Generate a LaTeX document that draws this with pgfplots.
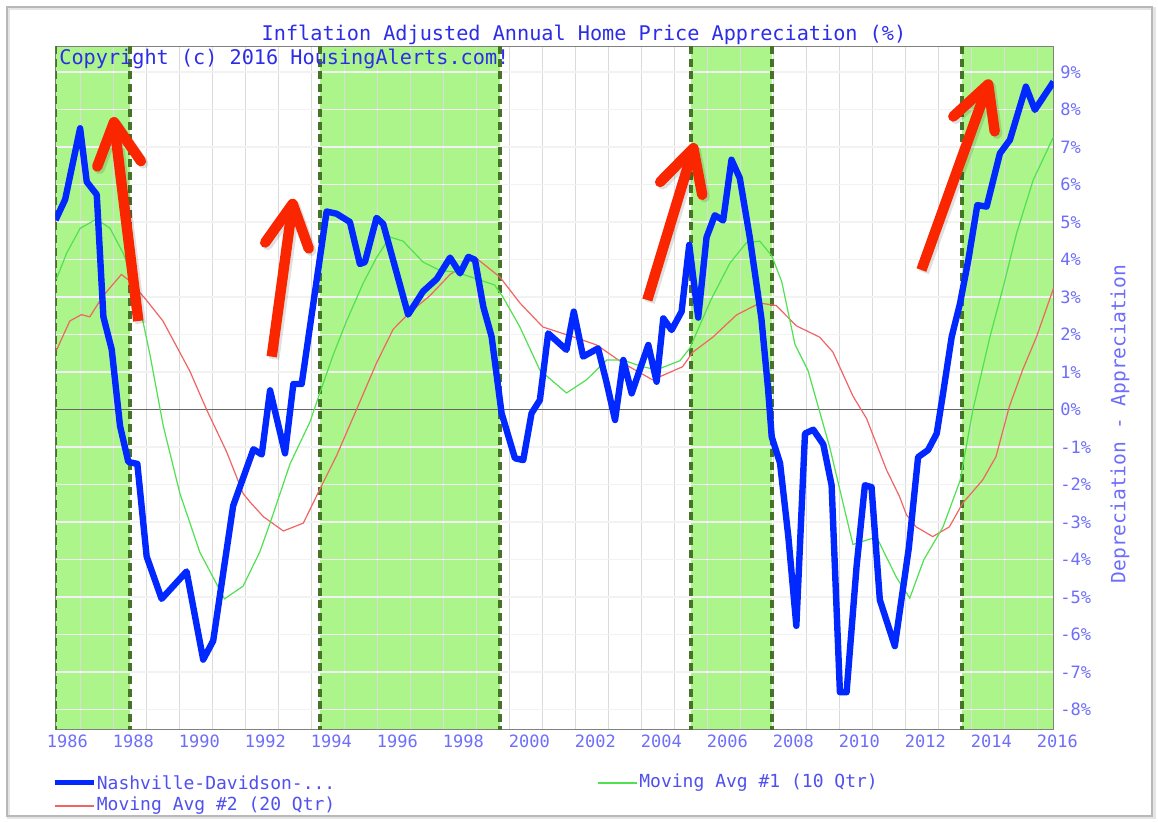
\documentclass[border=0pt]{standalone}
\usepackage{fontspec}
\setmainfont{DejaVu Sans Mono}
\usepackage{pgfplots}
\pgfplotsset{compat=1.18}
\usepackage{pgfplotstable}
\usetikzlibrary{arrows.meta}

\definecolor{titleblue}{RGB}{45,45,230}
\definecolor{tickblue}{RGB}{110,110,250}
\definecolor{legblue}{RGB}{80,80,240}
\definecolor{bandgreen}{RGB}{172,245,138}
\definecolor{dashgreen}{RGB}{70,115,40}
\definecolor{nashblue}{RGB}{0,40,255}
\definecolor{magreen}{RGB}{80,225,80}
\definecolor{mared}{RGB}{240,100,100}
\definecolor{arrowred}{RGB}{250,38,0}

% Nashville-Davidson, inflation adjusted annual appreciation (%)
\pgfplotstableread{
year pct
1986.00 5.05
1986.29 5.60
1986.74 7.50
1986.94 6.07
1987.24 5.73
1987.44 2.47
1987.69 1.60
1987.94 -0.44
1988.19 -1.40
1988.46 -1.45
1988.74 -3.92
1989.19 -5.05
1989.94 -4.32
1990.44 -6.67
1990.74 -6.17
1991.34 -2.57
1991.95 -1.06
1992.20 -1.20
1992.45 0.51
1992.90 -1.17
1993.15 0.68
1993.40 0.68
1994.15 5.28
1994.45 5.22
1994.85 5.00
1995.15 3.88
1995.30 3.93
1995.65 5.11
1995.85 4.95
1996.60 2.53
1997.05 3.15
1997.46 3.48
1997.86 4.05
1998.16 3.63
1998.41 4.07
1998.61 3.99
1998.86 2.74
1999.11 1.94
1999.41 -0.10
1999.81 -1.30
2000.06 -1.35
2000.31 -0.10
2000.56 0.25
2000.81 2.03
2001.36 1.59
2001.58 2.61
2001.86 1.41
2002.31 1.63
2002.57 0.70
2002.82 -0.28
2003.07 1.32
2003.32 0.43
2003.82 1.72
2004.07 0.74
2004.27 2.43
2004.52 2.12
2004.82 2.61
2005.05 4.39
2005.32 2.45
2005.57 4.59
2005.82 5.18
2006.07 5.04
2006.32 6.66
2006.57 6.17
2006.87 4.59
2007.22 2.42
2007.42 0.55
2007.53 -0.73
2007.78 -1.43
2008.03 -3.40
2008.27 -5.77
2008.53 -0.64
2008.78 -0.54
2009.08 -0.93
2009.33 -2.02
2009.58 -7.54
2009.78 -7.54
2010.08 -4.19
2010.33 -2.02
2010.53 -2.07
2010.78 -5.08
2011.23 -6.31
2011.65 -3.70
2011.93 -1.27
2012.23 -1.08
2012.49 -0.64
2012.68 0.43
2012.94 1.94
2013.19 2.83
2013.44 3.99
2013.71 5.45
2013.99 5.41
2014.39 6.83
2014.69 7.19
2015.17 8.61
2015.44 7.99
2016.00 8.74
}\nashville

% moving average #1 (10 qtr)
\pgfplotstableread{
year pct
1986.03 3.48
1986.33 4.16
1986.74 4.83
1987.24 5.08
1987.64 4.83
1988.04 4.16
1988.44 3.15
1988.84 1.46
1989.24 -0.44
1989.74 -2.24
1990.34 -3.81
1991.08 -5.05
1991.64 -4.71
1992.14 -3.80
1992.45 -3.03
1993.05 -1.45
1993.65 -0.33
1993.95 0.45
1994.35 1.46
1994.75 2.36
1995.25 3.37
1995.65 4.05
1996.05 4.60
1996.45 4.49
1997.05 3.93
1997.55 3.71
1998.05 3.66
1998.60 3.50
1999.20 3.32
1999.45 3.00
1999.96 2.20
2000.56 1.05
2001.36 0.44
2001.96 0.79
2002.57 1.32
2003.05 1.32
2003.65 1.14
2004.07 1.06
2004.77 1.30
2005.07 1.64
2005.70 2.92
2006.27 3.90
2006.77 4.45
2007.17 4.49
2007.53 4.10
2007.83 3.41
2008.23 1.73
2008.62 1.04
2009.28 -1.03
2009.97 -3.60
2010.68 -3.40
2011.28 -4.48
2011.68 -5.03
2012.10 -4.01
2012.68 -3.13
2013.19 -1.90
2013.58 0.00
2014.09 1.94
2014.49 3.27
2014.89 4.70
2015.39 6.12
2016.00 7.27
}\mavgten

% moving average #2 (20 qtr)
\pgfplotstableread{
year pct
1986.03 1.58
1986.43 2.36
1986.78 2.53
1987.03 2.47
1987.43 3.03
1987.98 3.60
1988.23 3.43
1988.73 2.92
1989.23 2.36
1990.04 1.02
1990.54 0.00
1991.14 -1.12
1991.64 -2.24
1991.85 -2.47
1992.25 -2.86
1992.85 -3.24
1993.45 -3.03
1993.95 -2.12
1994.45 -1.23
1995.05 0.00
1995.65 1.24
1996.15 2.14
1996.65 2.59
1997.25 3.03
1997.86 3.60
1998.16 3.77
1998.60 4.07
1999.36 3.53
1999.96 2.84
2000.65 2.20
2001.55 1.94
2002.27 1.72
2003.05 1.24
2003.95 0.79
2004.85 1.14
2005.16 1.53
2005.76 1.93
2006.47 2.52
2007.17 2.84
2007.67 2.77
2008.27 2.23
2008.97 1.93
2009.37 1.53
2009.97 0.36
2010.38 -0.24
2010.98 -1.61
2011.37 -2.32
2011.58 -2.81
2011.87 -3.13
2012.37 -3.39
2012.87 -3.13
2013.27 -2.50
2013.87 -1.88
2014.27 -1.26
2014.67 0.07
2015.07 1.05
2015.49 1.94
2016.00 3.23
}\mavgtwenty

\pgfplotsset{
  chartbox/.style={
    at={(0pt,0pt)}, anchor=south west,
    width=499pt, height=341.5pt, scale only axis,
    xmin=1986, xmax=2016,
    ymin=-8.547, ymax=9.667,
  },
}
\tikzset{
  bandedge/.style={dashgreen, line width=2pt, dash pattern=on 4pt off 2.3pt},
  redarrow/.style={arrowred, line width=5.2pt, line cap=butt,
    -{Straight Barb[length=21pt, width=22pt, line width=5.2pt, round]}},
  arrowshadow/.style={redarrow, black, opacity=0.12, shift={(1.2pt,-1.2pt)}},
}

\begin{document}
\begin{tikzpicture}
\fill[white] (-27.75pt,-46.5pt) rectangle (551.25pt,365pt);
\draw[black!10, line width=1.5pt] (-23.25pt,-44pt) rectangle (549.25pt,360.5pt);
\draw[black!28, line width=0.6pt] (-24.25pt,-43pt) rectangle (548.25pt,361.5pt);

% highlighted periods, drawn below the grid
\begin{axis}[chartbox, hide axis]
\addplot[fill=bandgreen, draw=none] coordinates {(1986,-9) (1986,10) (1988.24,10) (1988.24,-9)};
\addplot[fill=bandgreen, draw=none] coordinates {(1993.95,-9) (1993.95,10) (1999.375,10) (1999.375,-9)};
\addplot[fill=bandgreen, draw=none] coordinates {(2005.09,-9) (2005.09,10) (2007.53,10) (2007.53,-9)};
\addplot[fill=bandgreen, draw=none] coordinates {(2013.26,-9) (2013.26,10) (2016,10) (2016,-9)};
\end{axis}

\begin{axis}[
    chartbox,
    xtick={1986.158,1988.1418,...,2016},
    xticklabels={1986,1988,1990,1992,1994,1996,1998,2000,2002,2004,2006,2008,2010,2012,2014,2016},
    minor xtick={1986.748,1987.7399,...,2016},
    ytick={-8,-7,...,9},
    yticklabels={-8\%,-7\%,-6\%,-5\%,-4\%,-3\%,-2\%,-1\%,0\%,1\%,2\%,3\%,4\%,5\%,6\%,7\%,8\%,9\%},
    yticklabel pos=right,
    xminorgrids=true, ymajorgrids=true, xmajorgrids=false,
    minor grid style={black!14, line width=0.5pt},
    major grid style={white!95!black, line width=0.8pt},
    major tick length=0pt, minor tick length=0pt,
    axis line style={black!50, line width=0.5pt},
    tick label style={font=\fontsize{8.5}{10}\selectfont, text=tickblue, inner sep=0pt},
    xticklabel style={anchor=north, yshift=-2pt, xshift=3.3pt},
    yticklabel style={anchor=west, xshift=3.25pt},
]
\addplot[bandedge] coordinates {(1986,-9) (1986,10)};
\addplot[bandedge] coordinates {(1988.24,-9) (1988.24,10)};
\addplot[bandedge] coordinates {(1993.95,-9) (1993.95,10)};
\addplot[bandedge] coordinates {(1999.375,-9) (1999.375,10)};
\addplot[bandedge] coordinates {(2005.09,-9) (2005.09,10)};
\addplot[bandedge] coordinates {(2007.53,-9) (2007.53,10)};
\addplot[bandedge] coordinates {(2013.26,-9) (2013.26,10)};

% zero line
\addplot[black!60, line width=0.6pt] coordinates {(1986,0) (2016,0)};

\addplot[mared, line width=0.6pt] table[x=year, y=pct] {\mavgtwenty};
\addplot[magreen, line width=0.6pt] table[x=year, y=pct] {\mavgten};
\addplot[nashblue, line width=3.2pt, line join=round] table[x=year, y=pct] {\nashville};

% annotation arrows
\draw[arrowshadow] (axis cs:1988.49,2.36) -- (axis cs:1987.74,7.80);
\draw[arrowshadow] (axis cs:1992.50,1.41) -- (axis cs:1993.15,5.62);
\draw[arrowshadow] (axis cs:2003.79,2.92) -- (axis cs:2005.22,7.10);
\draw[arrowshadow] (axis cs:2012.03,3.72) -- (axis cs:2014.09,8.80);
\draw[redarrow] (axis cs:1988.49,2.36) -- (axis cs:1987.74,7.80);
\draw[redarrow] (axis cs:1992.50,1.41) -- (axis cs:1993.15,5.62);
\draw[redarrow] (axis cs:2003.79,2.92) -- (axis cs:2005.22,7.10);
\draw[redarrow] (axis cs:2012.03,3.72) -- (axis cs:2014.09,8.80);
\end{axis}

% title, watermark and right label
\node[anchor=base, text=titleblue, font=\fontsize{10.1}{12}\selectfont, inner sep=0pt]
  at (264.25pt,344.5pt) {Inflation Adjusted Annual Home Price Appreciation (\%)};
\node[anchor=base west, text=titleblue, font=\fontsize{10.1}{12}\selectfont, inner sep=0pt]
  at (1.75pt,332.5pt) {Copyright (c) 2016 HousingAlerts.com!};
\node[rotate=90, text=tickblue, font=\fontsize{9.8}{11}\selectfont, inner sep=0pt]
  at (532.25pt,153pt) {Depreciation - Appreciation};

% legend
\begin{scope}[font=\fontsize{9}{11}\selectfont]
\draw[nashblue, line width=2.5pt] (-0.25pt,-26.5pt) -- (19.5pt,-26.5pt);
\node[anchor=west, text=legblue, inner sep=0pt] at (20.5pt,-26.5pt) {Nashville-Davidson-...};
\draw[magreen, line width=1.2pt] (271.25pt,-26.5pt) -- (290.75pt,-26.5pt);
\node[anchor=west, text=legblue, inner sep=0pt] at (291.75pt,-26.5pt) {Moving Avg \#1 (10 Qtr)};
\draw[mared, line width=1.2pt] (-0.25pt,-38pt) -- (19.5pt,-38pt);
\node[anchor=west, text=legblue, inner sep=0pt] at (20.5pt,-38pt) {Moving Avg \#2 (20 Qtr)};
\end{scope}
\end{tikzpicture}
\end{document}
